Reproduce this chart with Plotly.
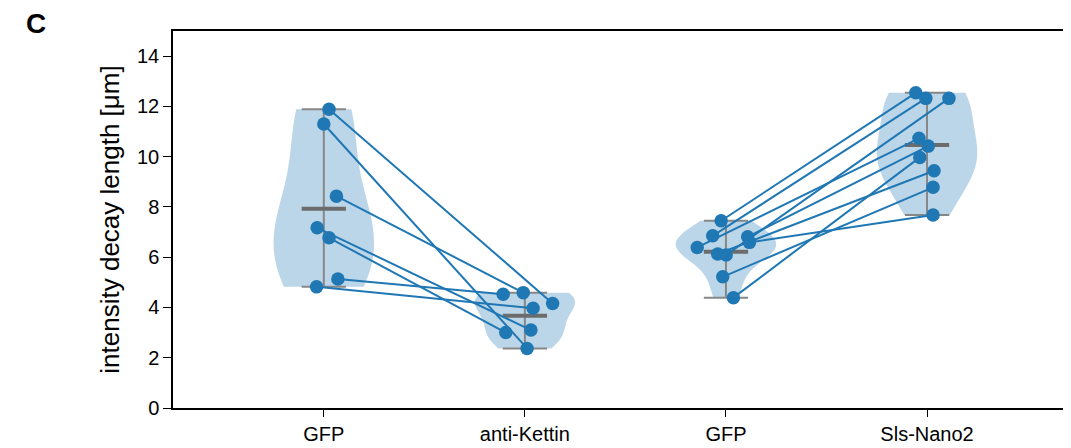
import numpy as np
import plotly.graph_objects as go

# ---- data ----
categories = ["GFP", "anti-Kettin", "GFP", "Sls-Nano2"]
positions = [0, 1, 2, 3]

# pair group 1: GFP -> anti-Kettin (paired by index)
gfp1 = [11.89, 11.30, 8.43, 7.17, 6.77, 5.13, 4.82]
kettin = [4.16, 2.37, 4.59, 3.10, 3.00, 4.53, 3.97]
gfp1_jitter = [0.026, 0.0, 0.063, -0.033, 0.026, 0.07, -0.036]
kettin_jitter = [0.138, 0.011, -0.008, 0.03, -0.095, -0.108, 0.041]

# pair group 2: GFP -> Sls-Nano2 (paired by index)
gfp2 = [7.45, 6.85, 6.39, 6.81, 6.59, 6.13, 6.09, 5.22, 4.39]
sls = [12.54, 12.32, 10.73, 10.42, 7.68, 9.44, 12.32, 8.78, 9.97]
gfp2_jitter = [-0.024, -0.066, -0.143, 0.108, 0.117, -0.041, 0.001, -0.016, 0.037]
sls_jitter = [-0.056, -0.006, -0.04, 0.006, 0.03, 0.035, 0.109, 0.03, -0.036]

y_ticks = [0, 2, 4, 6, 8, 10, 12, 14]

groups = [gfp1, kettin, gfp2, sls]

BLUE = "#1f77b4"
VIOLIN_FILL = "rgba(31,119,180,0.3)"
GRAY = "#878787"
MEAN_GRAY = "#6c6c6c"
FONT = "Liberation Sans, Arial, sans-serif"

fig = go.Figure()

# violins (Scott bandwidth like matplotlib)
for pos, vals in zip(positions, groups):
    v = np.asarray(vals)
    bw = v.std(ddof=1) * len(v) ** (-0.2)
    fig.add_trace(go.Violin(
        x0=pos, y=vals, name=str(pos), points=False,
        box_visible=False, meanline_visible=False,
        spanmode="hard", bandwidth=bw, width=0.5, scalemode="width",
        fillcolor=VIOLIN_FILL, line=dict(width=0, color="rgba(0,0,0,0)"),
        hoverinfo="skip", showlegend=False,
    ))

# extrema bars + vertical lines, and mean bars
half = 0.11
ex_x, ex_y, mn_x, mn_y = [], [], [], []
for pos, vals in zip(positions, groups):
    lo, hi, mu = min(vals), max(vals), float(np.mean(vals))
    ex_x += [pos, pos, None, pos - half, pos + half, None, pos - half, pos + half, None]
    ex_y += [lo, hi, None, lo, lo, None, hi, hi, None]
    mn_x += [pos - half, pos + half, None]
    mn_y += [mu, mu, None]

fig.add_trace(go.Scatter(x=ex_x, y=ex_y, mode="lines",
                         line=dict(color=GRAY, width=2), hoverinfo="skip",
                         showlegend=False))
fig.add_trace(go.Scatter(x=mn_x, y=mn_y, mode="lines",
                         line=dict(color=MEAN_GRAY, width=4), hoverinfo="skip",
                         showlegend=False))

# paired lines with points
def add_pairs(a, b, ja, jb, pa, pb):
    xs, ys = [], []
    for va, vb, da, db in zip(a, b, ja, jb):
        xs += [pa + da, pb + db, None]
        ys += [va, vb, None]
    fig.add_trace(go.Scatter(x=xs, y=ys, mode="lines+markers",
                             line=dict(color=BLUE, width=2),
                             marker=dict(color=BLUE, size=13.5, line=dict(width=0)),
                             hoverinfo="skip", showlegend=False))

add_pairs(gfp1, kettin, gfp1_jitter, kettin_jitter, positions[0], positions[1])
add_pairs(gfp2, sls, gfp2_jitter, sls_jitter, positions[2], positions[3])

# page body has an 8px margin: figure placed at (8,8)
ML, MT, PW, PH = 165, 23, 898, 377
fig.add_annotation(text="<b>C</b>", xref="paper", yref="paper",
                   x=(36 - 8 - ML) / PW, y=(MT + PH - (23 - 8)) / PH,
                   xanchor="center", yanchor="middle",
                   showarrow=False, font=dict(size=28, color="black", family=FONT))

fig.update_layout(
    width=ML + PW, height=MT + PH + 40,
    margin=dict(l=ML, r=0, t=MT, b=40, pad=0),
    plot_bgcolor="white", paper_bgcolor="white",
    font=dict(family=FONT, size=20, color="black"),
    violinmode="overlay",
    xaxis=dict(range=[-0.75, 3.716], tickvals=positions, ticktext=categories,
               showgrid=False, zeroline=False, showline=True, linecolor="black",
               linewidth=1.5, mirror=True, ticks="outside", ticklen=7,
               tickwidth=1.2, tickcolor="black", tickfont=dict(size=20)),
    yaxis=dict(range=[0, 15], tickvals=y_ticks, showgrid=False, zeroline=False,
               showline=True, linecolor="black", linewidth=1.5, mirror=False,
               ticks="outside", ticklen=8, tickwidth=1.2, tickcolor="black",
               tickfont=dict(size=20),
               title=dict(text="intensity decay length [μm]",
                          font=dict(size=26), standoff=10)),
)

fig.write_html("out.html")
